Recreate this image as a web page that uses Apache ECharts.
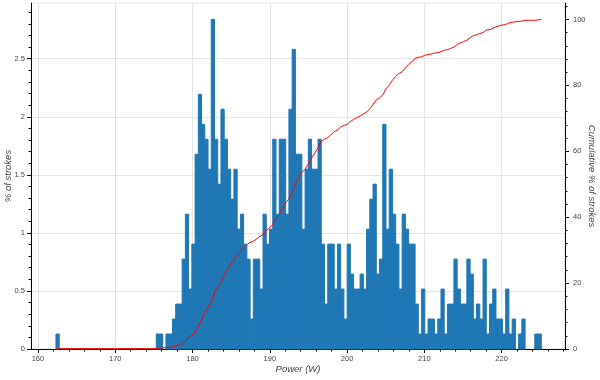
<!DOCTYPE html>
<html><head><meta charset="utf-8">
<script src="https://cdn.jsdelivr.net/npm/echarts@6/dist/echarts.min.js"></script>
<style>html,body{margin:0;padding:0;background:#fff}#c{width:600px;height:380px}</style>
</head><body><div id="c"></div>
<script>
// Histogram: 150 bins starting at binStart, each binWidth watts wide
const binStart = 162.33;
const binWidth = 0.41867;
const counts = [
  1,0,0,0,0,0,0,0,0,0,
  0,0,0,0,0,0,0,0,0,0,
  0,0,0,0,0,0,0,0,0,0,
  0,1,1,0,1,1,2,3,3,6,
  9,4,7,13,17,15,14,12,22,14,
  11,16,14,12,10,12,8,9,7,6,
  2,6,6,4,9,7,8,14,9,14,
  14,9,16,20,13,13,8,12,14,12,
  12,14,7,3,7,7,4,7,4,2,
  7,5,4,4,5,4,8,10,11,5,
  6,15,8,12,9,7,4,9,8,7,
  7,3,1,4,1,2,2,1,2,4,
  1,3,3,6,4,3,3,6,5,2,
  3,2,6,1,3,4,2,2,1,4,
  1,2,0,1,2,0,0,0,1,1
];
const xTicks = [160,170,180,190,200,210,220];
const xMinorTicks = [162,164,166,168,172,174,176,178,182,184,186,188,192,194,196,198,202,204,206,208,212,214,216,218,222,224,226,228];
const leftTicks = [0,0.5,1,1.5,2,2.5];
const leftMinorTicks = [0.1,0.2,0.3,0.4,0.6,0.7,0.8,0.9,1.1,1.2,1.3,1.4,1.6,1.7,1.8,1.9,2.1,2.2,2.3,2.4,2.6,2.7,2.8,2.9];
const rightTicks = [0,20,40,60,80,100];
const rightMinorTicks = [4,8,12,16,24,28,32,36,44,48,52,56,64,68,72,76,84,88,92,96,104];

const total = counts.reduce((a,b)=>a+b,0);
const barData = counts.map((c,i)=>[binStart+i*binWidth, binStart+(i+1)*binWidth, c/total*100]);
const cumData = [[binStart,0]];
let run = 0;
counts.forEach((c,i)=>{ run += c; cumData.push([binStart+(i+1)*binWidth, run/total*100]); });

const FONT = 'Liberation Sans, Arial, Helvetica, sans-serif';
const labelStyle = {fontSize:7.5, color:'#444', fontFamily:FONT};
const nameStyle = {fontSize:9.5, color:'#444', fontFamily:FONT, fontStyle:'italic'};
const XMIN = 159.1, XMAX = 228.2, YLMAX = 2.98, YRMAX = 105;

const chart = echarts.init(document.getElementById('c'), null, {renderer:'canvas'});
chart.setOption({
  animation:false,
  backgroundColor:'#fff',
  grid:{left:31, right:35, top:3, bottom:31, show:true, borderColor:'#e5e5e5', borderWidth:1,
        containLabel:false, outerBoundsMode:'none'},
  xAxis:[
    {type:'value', min:XMIN, max:XMAX, position:'bottom',
     name:'Power (W)', nameLocation:'middle', nameGap:15, nameMoveOverlap:false, nameTextStyle:nameStyle,
     axisLine:{show:true, onZero:false, lineStyle:{color:'#000', width:1}},
     axisTick:{show:true, length:4, customValues:xTicks, lineStyle:{color:'#000'}},
     axisLabel:{show:true, margin:6, customValues:xTicks, ...labelStyle},
     splitLine:{show:true, lineStyle:{color:'#e5e5e5', width:1}}},
    {type:'value', min:XMIN, max:XMAX, position:'bottom',
     axisLine:{show:false, onZero:false},
     axisTick:{show:true, length:2.5, customValues:xMinorTicks, lineStyle:{color:'#000'}},
     axisLabel:{show:false}, splitLine:{show:false}}
  ],
  yAxis:[
    {type:'value', min:0, max:YLMAX, interval:0.5, position:'left',
     name:'% of strokes', nameLocation:'middle', nameGap:18, nameMoveOverlap:false, nameTextStyle:nameStyle,
     axisLine:{show:true, onZero:false, lineStyle:{color:'#000', width:1}},
     axisTick:{show:true, length:4, customValues:leftTicks, lineStyle:{color:'#000'}},
     axisLabel:{show:true, margin:6, customValues:leftTicks, ...labelStyle},
     splitLine:{show:true, lineStyle:{color:'#e5e5e5', width:1}}},
    {type:'value', min:0, max:YRMAX, position:'right',
     name:'Cumulative % of strokes', nameLocation:'middle', nameGap:22, nameRotate:-90, nameMoveOverlap:false, nameTextStyle:nameStyle,
     axisLine:{show:true, onZero:false, lineStyle:{color:'#000', width:1}},
     axisTick:{show:true, length:4, customValues:rightTicks, lineStyle:{color:'#000'}},
     axisLabel:{show:true, margin:8, customValues:rightTicks, ...labelStyle},
     splitLine:{show:false}},
    {type:'value', min:0, max:YLMAX, position:'left',
     axisLine:{show:false, onZero:false},
     axisTick:{show:true, length:2.5, customValues:leftMinorTicks, lineStyle:{color:'#000'}},
     axisLabel:{show:false}, splitLine:{show:false}},
    {type:'value', min:0, max:YRMAX, position:'right',
     axisLine:{show:false, onZero:false},
     axisTick:{show:true, length:2.5, customValues:rightMinorTicks, lineStyle:{color:'#000'}},
     axisLabel:{show:false}, splitLine:{show:false}}
  ],
  series:[
    {type:'custom', xAxisIndex:0, yAxisIndex:0, data:barData, encode:{x:[0,1], y:2},
     renderItem:function(params, api){
       if (!(api.value(2) > 0)) return null;
       const p0 = api.coord([api.value(0), api.value(2)]);
       const p1 = api.coord([api.value(1), 0]);
       return {type:'rect', shape:{x:p0[0], y:p0[1], width:p1[0]-p0[0], height:p1[1]-p0[1]},
               style:{fill:'#1f77b4', stroke:'#1f77b4', lineWidth:1}};
     }},
    {type:'line', xAxisIndex:0, yAxisIndex:1, data:cumData, showSymbol:false, symbol:'none',
     lineStyle:{color:'#ff0000', width:1}, itemStyle:{color:'#ff0000'}, z:5}
  ]
});
</script></body></html>
